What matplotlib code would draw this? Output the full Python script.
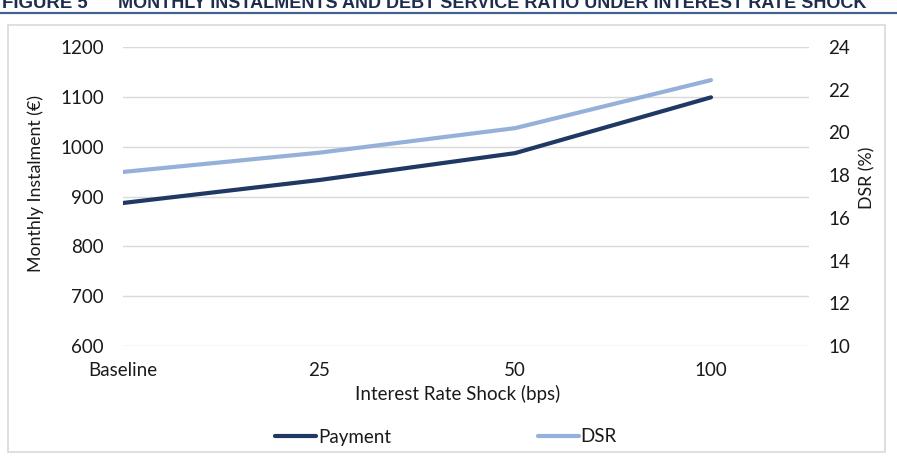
import matplotlib
matplotlib.use("Agg")
import matplotlib.pyplot as plt
from matplotlib.patches import Rectangle
from matplotlib.lines import Line2D

categories = ["Baseline", "25", "50", "100"]
payment = [887, 933, 987, 1099]
dsr = [18.15, 19.05, 20.2, 22.45]

W, H = 897, 476
fig = plt.figure(figsize=(W / 100, H / 100), dpi=100)
plt.rcParams['font.family'] = ['Lato', 'DejaVu Sans']

def fx(px):
    return px / W

def fy(py):
    return 1 - py / H

# title (cut off at top in the reference) and rule
title_col = '#1F2D4E'
fig.text(fx(2), fy(8), "FIGURE 5", fontsize=13.4, fontweight='bold',
         color=title_col, family=['Liberation Sans'], ha='left', va='baseline')
fig.text(fx(118), fy(8), "MONTHLY INSTALMENTS AND DEBT SERVICE RATIO UNDER INTEREST RATE SHOCK",
         fontsize=13.0, fontweight='bold', color=title_col, family=['Liberation Sans'],
         ha='left', va='baseline')
fig.add_artist(Line2D([0, 1], [fy(12.5), fy(12.5)], color='#44628F', lw=1.6,
                      transform=fig.transFigure))

# chart frame
fig.add_artist(Rectangle((fx(8), fy(452)), fx(885) - fx(8), fy(25) - fy(452),
                         transform=fig.transFigure, fill=False, edgecolor='#D9D9D9', lw=1.2))

ax = fig.add_axes([fx(123), fy(346), fx(809) - fx(123), fy(47) - fy(346)])
ax2 = ax.twinx()

x = list(range(len(categories)))
dark = '#203864'
light = '#95B1D9'
l1, = ax.plot(x, payment, color=dark, lw=3.0, solid_capstyle='round')
l2, = ax2.plot(x, dsr, color=light, lw=3.0, solid_capstyle='round')
ax2.set_zorder(ax.get_zorder() + 1)

ax.set_xlim(0, 3.5)
ax.set_ylim(600, 1200)
ax.set_yticks(range(600, 1201, 100))
ax2.set_ylim(10, 24)
ax2.set_yticks(range(10, 25, 2))
ax.set_xticks(x)
ax.set_xticklabels(categories)

ax.grid(axis='y', color='#D9D9D9', lw=1.0)
ax.set_axisbelow(True)
for a in (ax, ax2):
    for s in a.spines.values():
        s.set_visible(False)
    a.tick_params(length=0, labelsize=13.5, colors='#1a1a1a')
ax.tick_params(axis='y', pad=13.7)
ax2.tick_params(axis='y', pad=13.7)
ax.tick_params(axis='x', pad=11.8)

ax.set_ylabel("Monthly Instalment (€)", fontsize=12.8, color='#1a1a1a')
ax.yaxis.set_label_coords((44 - 123) / (809 - 123), (346 - 184) / (346 - 47))
ax2.set_ylabel("DSR (%)", fontsize=12.8, color='#1a1a1a')
ax2.yaxis.set_label_coords((859 - 123) / (809 - 123), (346 - 178) / (346 - 47))
ax.set_xlabel("Interest Rate Shock (bps)", fontsize=13.5, color='#1a1a1a')
ax.xaxis.set_label_coords((458 - 123) / (809 - 123), (346 - 385) / (346 - 47))

leg = fig.legend([l1, l2], ["Payment", "DSR"], loc='center', ncol=2,
                 bbox_to_anchor=(fx(446), fy(437)), frameon=False, fontsize=13.5,
                 handlelength=2.2, handletextpad=0.1, columnspacing=7.8)
for t in leg.get_texts():
    t.set_color('#1a1a1a')

fig.savefig("out.png", dpi=100)
